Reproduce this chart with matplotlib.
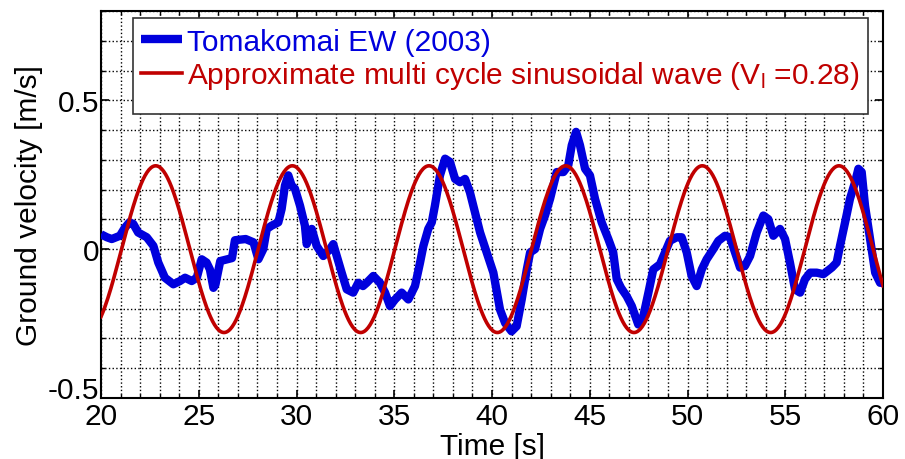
import numpy as np
import matplotlib
matplotlib.use("Agg")
import matplotlib.pyplot as plt
import matplotlib.transforms as mtrans
from matplotlib.patches import Rectangle
from matplotlib.ticker import MultipleLocator

plt.rcParams['font.family'] = ['Liberation Sans', 'DejaVu Sans']
plt.rcParams['mathtext.fontset'] = 'custom'
plt.rcParams['mathtext.rm'] = 'Liberation Sans'
plt.rcParams['mathtext.it'] = 'Liberation Sans'

rec_t = [20.0, 20.3, 20.55, 20.97, 21.2, 21.45, 21.65, 21.9, 22.34, 22.68,
         22.93, 23.27, 23.7, 24.04, 24.3, 24.64, 24.9, 25.15, 25.4, 25.57,
         25.75, 25.85, 26.1, 26.7, 26.85, 27.4, 27.8, 28.05, 28.3, 28.48,
         28.73, 29.07, 29.24, 29.41, 29.58, 29.75, 29.92, 30.18, 30.43, 30.52,
         30.78, 31.03, 31.37, 31.71, 31.88, 32.06, 32.31, 32.57, 32.9, 33.16,
         33.4, 33.59, 33.93, 34.27, 34.53, 34.78, 35.04, 35.38, 35.72, 36.06,
         36.32, 36.49, 36.74, 36.92, 37.08, 37.34, 37.6, 37.85, 38.11, 38.36,
         38.62, 38.87, 39.13, 39.39, 39.73, 40.07, 40.41, 40.67, 41.0, 41.26,
         41.52, 41.78, 41.95, 42.2, 42.46, 42.71, 42.97, 43.31, 43.65, 43.9,
         44.08, 44.3, 44.5, 44.76, 45.01, 45.27, 45.61, 45.95, 46.2, 46.38,
         46.6, 46.89, 47.15, 47.48, 47.74, 48.0, 48.25, 48.59, 48.85, 49.1,
         49.45, 49.7, 49.96, 50.21, 50.47, 50.73, 50.98, 51.32, 51.58, 51.92,
         52.17, 52.43, 52.69, 52.94, 53.2, 53.54, 53.88, 54.13, 54.39, 54.73,
         54.99, 55.24, 55.5, 55.76, 56.01, 56.27, 56.61, 56.95, 57.38, 57.63,
         57.8, 58.06, 58.31, 58.57, 58.74, 58.91, 59.08, 59.34, 59.6, 59.85,
         60.0]
rec_v = [0.05, 0.04, 0.034, 0.045, 0.07, 0.09, 0.085, 0.056, 0.04, 0.011,
         -0.045, -0.096, -0.118, -0.107, -0.096, -0.107, -0.096, -0.034, -0.045, -0.068,
         -0.13, -0.12, -0.04, -0.03, 0.03, 0.034, 0.023, -0.034, 0.0, 0.068,
         0.079, 0.09, 0.135, 0.214, 0.248, 0.214, 0.203, 0.146, 0.079, 0.017,
         0.068, 0.011, -0.023, 0.0, 0.017, -0.023, -0.079, -0.135, -0.146, -0.113,
         -0.124, -0.113, -0.09, -0.113, -0.146, -0.191, -0.169, -0.146, -0.169, -0.124,
         -0.045, 0.011, 0.068, 0.09, 0.146, 0.248, 0.304, 0.293, 0.236, 0.225,
         0.236, 0.191, 0.124, 0.056, -0.011, -0.079, -0.203, -0.248, -0.276, -0.259,
         -0.169, -0.068, -0.011, 0.0, 0.068, 0.113, 0.169, 0.259, 0.259, 0.281,
         0.349, 0.394, 0.349, 0.27, 0.248, 0.169, 0.09, 0.034, -0.011, -0.101,
         -0.13, -0.158, -0.191, -0.253, -0.225, -0.146, -0.068, -0.051, -0.011, 0.028,
         0.04, 0.04, -0.011, -0.09, -0.124, -0.068, -0.034, 0.0, 0.028, 0.045,
         0.04, -0.011, -0.062, -0.056, -0.023, 0.056, 0.113, 0.101, 0.045, 0.068,
         0.034, -0.045, -0.135, -0.146, -0.101, -0.079, -0.079, -0.084, -0.062, -0.045,
         0.011, 0.09, 0.169, 0.225, 0.27, 0.259, 0.146, 0.034, -0.079, -0.113,
         -0.113]

# sinusoid parameters
Vl = 0.28
period = 6.99
t_zero = 21.05

t_sin = np.linspace(20, 60, 800)
v_sin = Vl * np.sin(2 * np.pi * (t_sin - t_zero) / period)

fs = 21.5

fig = plt.figure(figsize=(9.05, 4.6), dpi=100)
ax = fig.add_axes([0.1116, 0.1326, 0.8641, 0.8413])

ax.plot(rec_t, rec_v, color='#0000dd', lw=6, solid_joinstyle='round',
        solid_capstyle='butt', label='Tomakomai EW (2003)', zorder=3)
ax.plot(t_sin, v_sin, color='#c00000', lw=2.6,
        label=r'Approximate multi cycle sinusoidal wave (V$_{\rm l}$ =0.28)', zorder=4)

ax.set_xlim(20, 60)
ax.set_ylim(-0.5, 0.8)
ax.xaxis.set_major_locator(MultipleLocator(5))
ax.xaxis.set_minor_locator(MultipleLocator(1))
ax.yaxis.set_minor_locator(MultipleLocator(0.1))
ax.set_yticks([-0.5, 0, 0.5])
ax.set_yticklabels(['-0.5', '0', '0.5'])
ax.grid(which='both', color='black', linestyle=':', linewidth=1.0)
ax.tick_params(which='both', direction='in', top=True, right=True,
               labelsize=fs)
ax.tick_params(axis='x', pad=3)
ax.tick_params(axis='y', pad=1)
ax.tick_params(which='major', length=6, width=1.2)
ax.tick_params(which='minor', length=3, width=1.0)
for s in ax.spines.values():
    s.set_linewidth(1.5)

# lift the bottom y label a little so it clears the "20"
lab = ax.get_yticklabels()[0]
lab.set_transform(lab.get_transform() +
                  mtrans.ScaledTranslation(0, 11 / 100, fig.dpi_scale_trans))

ax.set_xlabel('Time [s]', fontsize=fs, labelpad=1)
ax.set_ylabel('Ground velocity [m/s]', fontsize=fs, labelpad=4)

# legend box
ax.add_patch(Rectangle((0.041, 0.733), 0.94, 0.248, transform=ax.transAxes,
                       facecolor='white', edgecolor='#333333', lw=1.2, zorder=5))
leg = ax.legend(loc='upper left', bbox_to_anchor=(0.043, 0.972), frameon=False,
                fontsize=fs, handlelength=1.4, handletextpad=0.15,
                labelspacing=0.12, borderpad=0.2, borderaxespad=0)
leg.set_zorder(6)
for txt, c in zip(leg.get_texts(), ['#0000dd', '#c00000']):
    txt.set_color(c)

fig.savefig('out.png', dpi=100)
